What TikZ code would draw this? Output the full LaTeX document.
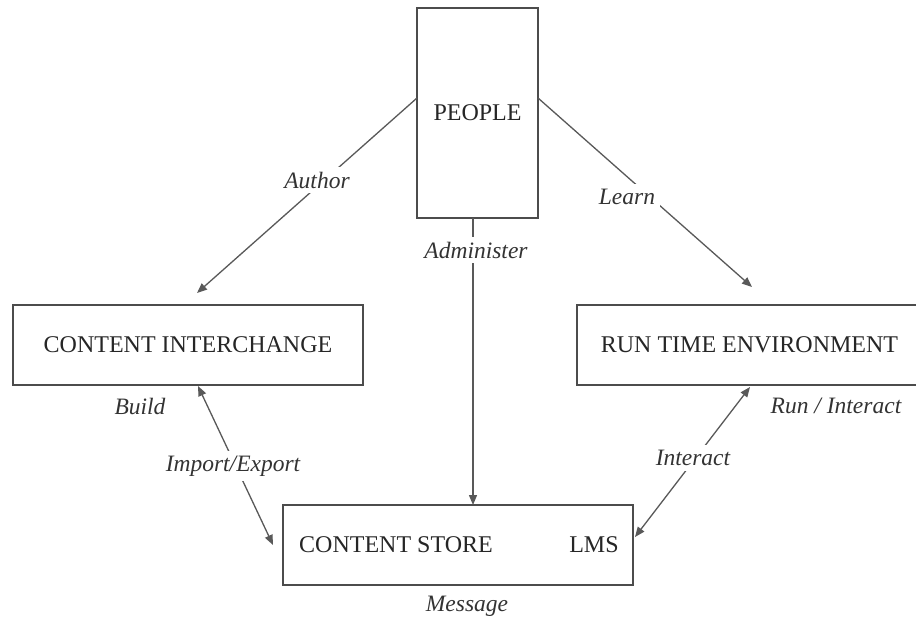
\documentclass[tikz,border=0pt]{standalone}
\usepackage{fontspec}
\setmainfont{Liberation Serif}
\usetikzlibrary{arrows.meta}
\begin{document}
\begin{tikzpicture}[x=1pt,y=-1pt,
  boxnode/.style={draw=black!70,line width=1.6pt,fill=white,inner sep=0pt,
    font=\fontsize{24}{28}\selectfont,text=black!85},
  boxtext/.style={font=\fontsize{24}{28}\selectfont,text=black!85,inner sep=0pt},
  lbl/.style={fill=white,inner sep=5pt,font=\fontsize{23.5}{27}\selectfont\itshape,text=black!80},
  conn/.style={draw=black!65,line width=1.3pt,-{Triangle[length=10pt,width=8pt]}},
  conn2/.style={draw=black!65,line width=1.3pt,{Triangle[length=10pt,width=8pt]}-{Triangle[length=10pt,width=8pt]}}]
\useasboundingbox[fill=white] (0,0) rectangle (916,621);
\clip (0,0) rectangle (916,621);

% boxes
\node[boxnode,minimum width=121pt,minimum height=210pt] (people) at (477.5,113) {PEOPLE};
\node[boxnode,minimum width=350pt,minimum height=80pt] (ci) at (188,345) {CONTENT INTERCHANGE};
\node[boxnode,minimum width=345pt,minimum height=80pt] (rte) at (749.5,345) {RUN TIME ENVIRONMENT};
\node[boxnode,minimum width=350pt,minimum height=80pt] (cs) at (458,545) {};
\node[boxtext] (cst) at (396,545) {CONTENT STORE};
\node[boxtext] (lms) at (594,545) {LMS};

% connector end points
\coordinate (pa) at (417,98);
\coordinate (ae) at (197,293);
\coordinate (pl) at (538,98);
\coordinate (le) at (752,287);
\coordinate (pd) at (473,218);
\coordinate (de) at (473,505);
\coordinate (ie1) at (198,386);
\coordinate (ie2) at (273,545);
\coordinate (in1) at (750,387);
\coordinate (in2) at (635,537);

% connectors
\draw[conn] (pa) -- (ae);
\draw[conn] (pl) -- (le);
\draw[conn] (pd) -- (de);
\draw[conn2] (ie1) -- (ie2);
\draw[conn2] (in1) -- (in2);

% labels
\node[lbl] (lauthor) at (317,180) {Author};
\node[lbl] (llearn) at (627,197) {Learn};
\node[lbl] (ladmin) at (476,250) {Administer};
\node[lbl] (lbuild) at (140,406) {Build};
\node[lbl] (limp) at (233,466) {Import/Export};
\node[lbl] (linter) at (693,458) {Interact};
\node[lbl] (lrun) at (836,406) {Run / Interact};
\node[lbl] (lmsg) at (467,606) {Message};
\end{tikzpicture}
\end{document}
